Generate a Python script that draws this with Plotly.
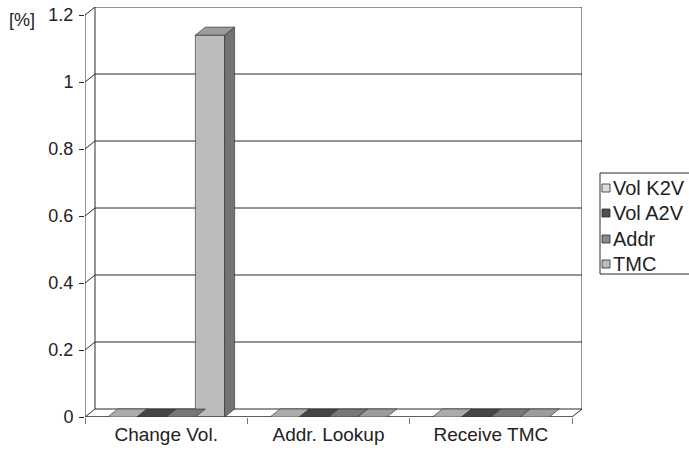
import plotly.graph_objects as go

# ---------------- data ----------------
categories = ["Change Vol.", "Addr. Lookup", "Receive TMC"]
series_names = ["Vol K2V", "Vol A2V", "Addr", "TMC"]
vol_k2v = [0, 0, 0]
vol_a2v = [0, 0, 0]
addr = [0, 0, 0]
tmc = [1.14, 0, 0]
y_tick_values = [0, 0.2, 0.4, 0.6, 0.8, 1, 1.2]
y_tick_labels = ["0", "0.2", "0.4", "0.6", "0.8", "1", "1.2"]
unit_label = "[%]"

series_values = [vol_k2v, vol_a2v, addr, tmc]

# ---------------- style ----------------
front_colors = ["#dedede", "#4f4f4f", "#8a8a8a", "#bcbcbc"]
top_colors = ["#ababab", "#454545", "#777777", "#9c9c9c"]
side_colors = ["#9a9a9a", "#3a3a3a", "#666666", "#737373"]
edge = "#2a2a2a"
txt = "#222222"
FONT = "Liberation Sans, Arial, sans-serif"

W, H = 689, 454
ML, MR, MT, MB = 85, 107, 7, 37
PW, PH = W - ML - MR, H - MT - MB

YMAX_TICK = 1.2
cat_px = (572 - ML) / 3.0
DX = (PW - 3 * cat_px) / cat_px          # depth offset in x units
px_per_y = (417 - 15) / YMAX_TICK
DY = 8 / px_per_y                          # depth offset in y units
x_range = [-0.5, 2.5 + DX]
y_range = [0, YMAX_TICK + DY]

BW = 0.18
offsets = [-0.36 + j * BW for j in range(4)]
xs = list(range(len(categories)))

fig = go.Figure()
for j, (name, vals) in enumerate(zip(series_names, series_values)):
    fig.add_trace(go.Bar(
        x=xs, y=vals, name=name, width=BW, offset=offsets[j],
        marker=dict(color=front_colors[j], line=dict(color=edge, width=0.6)),
        showlegend=False,
    ))

shapes = []
# floor
x0b, x1b = x_range[0], 2.5
shapes.append(dict(type="path", layer="below",
                   path=f"M{x0b},0 L{x1b},0 L{x1b+DX},{DY} L{x0b+DX},{DY} Z",
                   fillcolor="white", line=dict(color=edge, width=1)))
# back wall outline + gridlines
shapes.append(dict(type="line", layer="below", x0=x0b + DX, x1=x0b + DX, y0=DY, y1=YMAX_TICK + DY,
                   line=dict(color=edge, width=1)))
shapes.append(dict(type="line", layer="below", x0=x1b + DX, x1=x1b + DX, y0=DY, y1=YMAX_TICK + DY,
                   line=dict(color=edge, width=1)))
for v in y_tick_values[1:]:
    shapes.append(dict(type="line", layer="below", x0=x0b + DX, x1=x1b + DX, y0=v + DY, y1=v + DY,
                       line=dict(color=edge, width=1)))
    shapes.append(dict(type="line", layer="below", x0=x0b, x1=x0b + DX, y0=v, y1=v + DY,
                       line=dict(color=edge, width=1)))
# front value axis
shapes.append(dict(type="line", layer="above", x0=x0b, x1=x0b, y0=-0.012, y1=YMAX_TICK,
                   line=dict(color=edge, width=1)))
# floor front edge
shapes.append(dict(type="line", layer="above", x0=x0b, x1=x1b, y0=0, y1=0,
                   line=dict(color=edge, width=1)))

# 3D faces of bars
for j, vals in enumerate(series_values):
    for i, v in enumerate(vals):
        bx0 = xs[i] + offsets[j]
        bx1 = bx0 + BW
        if v > 0:
            shapes.append(dict(type="path", layer="above",
                               path=f"M{bx1},0 L{bx1+DX},{DY} L{bx1+DX},{v+DY} L{bx1},{v} Z",
                               fillcolor=side_colors[j], line=dict(color=edge, width=0.6)))
        shapes.append(dict(type="path", layer="above",
                           path=f"M{bx0},{v} L{bx1},{v} L{bx1+DX},{v+DY} L{bx0+DX},{v+DY} Z",
                           fillcolor=top_colors[j], line=dict(color=edge, width=0.6)))


def px2x(px):
    return (px - ML) / PW


def px2y(py):
    return (H - MB - py) / PH


# custom legend
leg_left, leg_top, leg_bot = 600, 173, 274
shapes.append(dict(type="rect", xref="paper", yref="paper",
                   x0=px2x(leg_left), x1=px2x(720), y0=px2y(leg_bot), y1=px2y(leg_top),
                   fillcolor="white", line=dict(color=edge, width=1), layer="above"))
item_y = [188, 213, 239, 264]
annotations = []
for j, name in enumerate(series_names):
    cy = item_y[j]
    shapes.append(dict(type="rect", xref="paper", yref="paper",
                       x0=px2x(602), x1=px2x(610), y0=px2y(cy + 4), y1=px2y(cy - 4),
                       fillcolor=front_colors[j], line=dict(color=edge, width=0.8), layer="above"))
    annotations.append(dict(xref="paper", yref="paper", x=px2x(611), y=px2y(cy),
                            xanchor="left", yanchor="middle", text=name, showarrow=False,
                            font=dict(family=FONT, size=20, color=txt)))

annotations.append(dict(xref="paper", yref="paper", x=px2x(7), y=px2y(20),
                        xanchor="left", yanchor="middle", text=unit_label, showarrow=False,
                        font=dict(family=FONT, size=18, color=txt)))

fig.update_layout(
    width=W, height=H,
    margin=dict(l=ML, r=MR, t=MT, b=MB, autoexpand=False),
    paper_bgcolor="white", plot_bgcolor="white",
    barmode="overlay",
    shapes=shapes, annotations=annotations,
    showlegend=False,
    font=dict(family=FONT, size=18, color=txt),
    xaxis=dict(range=x_range, tickvals=xs, ticktext=categories, ticks="",
               showgrid=False, zeroline=False, showline=False,
               tickfont=dict(family=FONT, size=19, color=txt),
               ticklabelstandoff=4,
               minor=dict(tickvals=[-0.5, 0.5, 1.5, 2.5], ticks="outside", ticklen=6,
                          tickcolor="#777777", tickwidth=1, showgrid=False),
               fixedrange=True),
    yaxis=dict(range=y_range, tickvals=y_tick_values, ticktext=y_tick_labels,
               ticks="outside", ticklen=5, tickcolor=edge, tickwidth=1,
               showgrid=False, zeroline=False, showline=False,
               tickfont=dict(family=FONT, size=18, color=txt),
               ticklabelstandoff=2,
               fixedrange=True),
)

fig.write_html("out.html")
